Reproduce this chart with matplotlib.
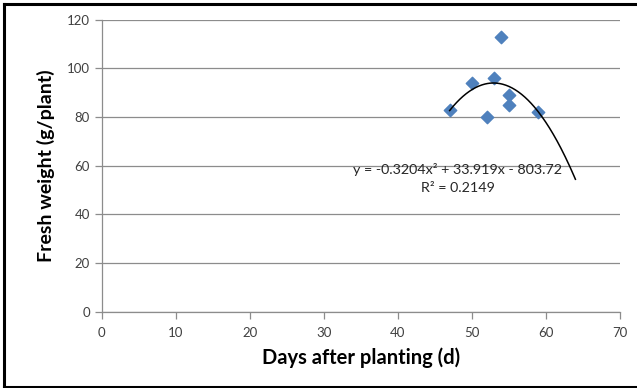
import numpy as np
import matplotlib
matplotlib.use("Agg")
import matplotlib.pyplot as plt
from matplotlib.lines import Line2D

plt.rcParams['font.family'] = ['Lato', 'DejaVu Sans']

# Days after planting vs fresh weight
days = [47, 50, 52, 53, 54, 55, 55, 59]
fresh_weight = [83, 94, 80, 96, 113, 89, 85, 82]
forecast_days = 5  # trendline extended forward
eq_text = 'y = -0.3204x² + 33.919x - 803.72'
r2_text = 'R² = 0.2149'

fig = plt.figure(figsize=(6.37, 3.88), dpi=100)
ax = fig.add_axes([0.160, 0.1967, 0.813, 0.753])

grid_col = '#8c8c8c'
ax.set_xlim(0, 70)
ax.set_ylim(0, 120)
ax.set_xticks(range(0, 71, 10))
ax.set_yticks(range(0, 121, 20))
ax.yaxis.grid(True, color=grid_col, linewidth=0.9)
ax.set_axisbelow(True)
for s in ['top', 'right']:
    ax.spines[s].set_visible(False)
for s in ['left', 'bottom']:
    ax.spines[s].set_color(grid_col)
    ax.spines[s].set_linewidth(0.9)
ax.tick_params(axis='both', colors=grid_col, length=5, width=0.9,
               labelcolor='#404040', labelsize=9.5)
ax.tick_params(axis='x', pad=6)

ax.scatter(days, fresh_weight, marker='D', s=40, color='#4f81bd', zorder=3)

# second order polynomial trendline
coef = np.polyfit(days, fresh_weight, 2)
xs = np.linspace(min(days), max(days) + forecast_days, 200)
ax.plot(xs, np.polyval(coef, xs), color='black', linewidth=1.1, zorder=4)

ax.text(48.1, 58.2, eq_text, ha='center', va='center', fontsize=10.3, color='#262626')
ax.text(48.1, 50.8, r2_text, ha='center', va='center', fontsize=10.3, color='#262626')

ax.set_xlabel('Days after planting (d)', fontsize=14.5, fontweight='bold', labelpad=6)
ax.set_ylabel('Fresh weight (g/plant)', fontsize=14, fontweight='bold', labelpad=9)

# outer border of the original chart image
fig.add_artist(Line2D([4 / 637, 4 / 637], [1 - 4 / 388, 1 / 388], color='black', linewidth=2.2))
fig.add_artist(Line2D([4 / 637, 1], [1 - 4 / 388, 1 - 4 / 388], color='black', linewidth=2.2))
fig.add_artist(Line2D([4 / 637, 1], [1 / 388, 1 / 388], color='black', linewidth=2.2))

fig.savefig('out.png', dpi=100)
